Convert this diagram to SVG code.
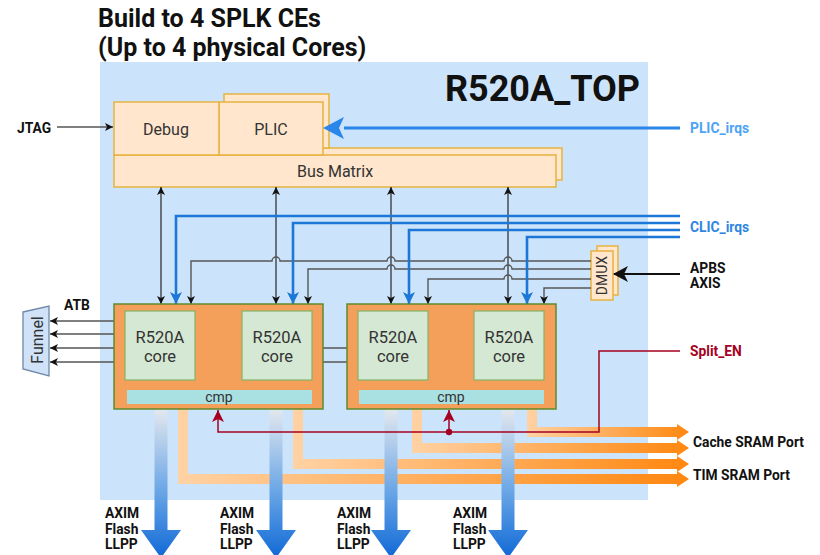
<svg xmlns="http://www.w3.org/2000/svg" width="820" height="555" viewBox="0 0 820 555">
<defs>
<style>
text{font-family:Roboto,"Liberation Sans",sans-serif;}
.b{font-weight:bold;fill:#111;font-size:13.8px;}
.n{fill:#333;font-size:16px;}
.box{fill:#ffe6cc;stroke:#e6b33f;stroke-width:1.5;}
.cl{fill:#f5a05a;stroke:#5d8a2e;stroke-width:1.5;}
.core{fill:#d5e8d4;stroke:#82b366;stroke-width:1.2;}
.cmp{fill:#a9e0e2;}
.blk{fill:none;stroke:#333;stroke-width:1.3;}
.gry{fill:none;stroke:#555;stroke-width:1.4;}
.blu{fill:none;stroke:#1c77d8;stroke-width:2.6;}
.red{fill:none;stroke:#a50021;stroke-width:1.5;}
</style>
<marker id="ak" viewBox="0 0 10 10" refX="10" refY="5" markerWidth="8" markerHeight="8" markerUnits="userSpaceOnUse" orient="auto-start-reverse"><path d="M0,0 L10,5 L0,10 L2.5,5 z" fill="#111"/></marker>
<marker id="abl" viewBox="0 0 10 10" refX="10" refY="5" markerWidth="13" markerHeight="12" markerUnits="userSpaceOnUse" orient="auto"><path d="M0,0 L10,5 L0,10 L2.5,5 z" fill="#1c77d8"/></marker>
<marker id="ar" viewBox="0 0 10 10" refX="10" refY="5" markerWidth="12" markerHeight="12" markerUnits="userSpaceOnUse" orient="auto"><path d="M0,0 L10,5 L0,10 L2.5,5 z" fill="#a50021"/></marker>
<linearGradient id="gb" x1="0" y1="0" x2="0" y2="1"><stop offset="0" stop-color="#e4e8ee"/><stop offset="0.55" stop-color="#6aa6e6"/><stop offset="1" stop-color="#1069d6"/></linearGradient>
<linearGradient id="go" x1="0" y1="0" x2="1" y2="0"><stop offset="0" stop-color="#ffd2a4"/><stop offset="1" stop-color="#ff8710"/></linearGradient>
</defs>
<rect width="820" height="555" fill="#fff"/>
<rect x="100" y="62" width="548" height="438" fill="#cce4fb"/>
<text class="b" x="98" y="27" style="font-size:25px">Build to 4 SPLK CEs</text>
<text class="b" x="98" y="56" style="font-size:25px">(Up to 4 physical Cores)</text>
<text class="b" x="445" y="101" style="font-size:36px">R520A_TOP</text>

<g id="bus-matrix">
<rect class="box" x="120" y="148" width="442" height="32"/>
<rect class="box" x="114" y="155" width="442" height="32"/>
<text class="n" x="335" y="177" text-anchor="middle">Bus Matrix</text>
</g>
<g id="plic">
<rect class="box" x="224" y="94" width="105" height="54"/>
<rect class="box" x="219" y="102" width="104" height="53"/>
<text class="n" x="271" y="135" text-anchor="middle">PLIC</text>
</g>
<g id="debug">
<rect class="box" x="114" y="102" width="105" height="53"/>
<text class="n" x="166" y="135" text-anchor="middle">Debug</text>
</g>
<g id="dmux">
<rect class="box" x="597" y="246" width="21" height="49"/>
<rect class="box" x="591" y="251" width="22" height="49"/>
<text x="602" y="275.5" transform="rotate(-90 602 275.5)" text-anchor="middle" dominant-baseline="central" style="font-size:14px;fill:#333">DMUX</text>
</g>
<g id="funnel">
<polygon points="23,312 49,306 49,376 23,369" fill="#cfe2f7" stroke="#6f88a8" stroke-width="1.3"/>
<text x="37" y="340" transform="rotate(-90 37 340)" text-anchor="middle" dominant-baseline="central" style="font-size:16px;fill:#333">Funnel</text>
</g>

<g id="connectors">
<polygon fill="url(#go)" points="527,409 537,409 537,427 677,427 677,424 689,432 677,440 677,437 527,437"/>
<polygon fill="url(#go)" points="412,409 422,409 422,443 677,443 677,440 689,448 677,456 677,453 412,453"/>
<polygon fill="url(#go)" points="293,409 303,409 303,459 677,459 677,456 689,464 677,472 677,469 293,469"/>
<polygon fill="url(#go)" points="178,409 188,409 188,474 677,474 677,471 689,479 677,487 677,484 178,484"/>
<polygon fill="url(#gb)" points="154.5,409 167.5,409 167.5,530 181,530 161,558 141,530 154.5,530"/>
<polygon fill="url(#gb)" points="269.5,409 282.5,409 282.5,530 296,530 276,558 256,530 269.5,530"/>
<polygon fill="url(#gb)" points="384.5,409 397.5,409 397.5,530 411,530 391,558 371,530 384.5,530"/>
<polygon fill="url(#gb)" points="501.5,409 514.5,409 514.5,530 528,530 508,558 488,530 501.5,530"/>
<path class="red" d="M680,351 H599 V432 H218 V410" marker-end="url(#ar)"/>
<path class="red" d="M449,432 V410" marker-end="url(#ar)"/>
<circle cx="449" cy="432" r="3.2" fill="#a50021"/>
<path class="gry" d="M57,127 H113" marker-end="url(#ak)"/>
<path d="M680,128 H344" stroke="#2a86e8" stroke-width="3" fill="none"/>
<path d="M323,128 L344,117 L339,128 L344,139 z" fill="#2a86e8"/>
<path class="blk" d="M161,187 V304" marker-start="url(#ak)" marker-end="url(#ak)"/>
<path class="blk" d="M276,187 V304" marker-start="url(#ak)" marker-end="url(#ak)"/>
<path class="blk" d="M391,187 V304" marker-start="url(#ak)" marker-end="url(#ak)"/>
<path class="blk" d="M508,187 V304" marker-start="url(#ak)" marker-end="url(#ak)"/>
<path class="gry" d="M591,261 H512 A4,4 0 0 0 504,261 H395 A4,4 0 0 0 387,261 H280 A4,4 0 0 0 272,261 H191 V304" marker-end="url(#ak)"/>
<path class="gry" d="M591,269 H512 A4,4 0 0 0 504,269 H395 A4,4 0 0 0 387,269 H308 V304" marker-end="url(#ak)"/>
<path class="gry" d="M591,279 H512 A4,4 0 0 0 504,279 H428 V304" marker-end="url(#ak)"/>
<path class="gry" d="M591,288 H544 V304" marker-end="url(#ak)"/>
<path d="M680,274 H614" stroke="#111" stroke-width="2" fill="none"/>
<path d="M613,274 L628,266 L624,274 L628,282 z" fill="#111"/>
<path class="blu" d="M680,216 H176 V304" marker-end="url(#abl)"/>
<path class="blu" d="M680,223 H293 V304" marker-end="url(#abl)"/>
<path class="blu" d="M680,230 H409 V304" marker-end="url(#abl)"/>
<path class="blu" d="M680,237 H527 V304" marker-end="url(#abl)"/>
<path class="gry" d="M114,321 H50" marker-end="url(#ak)"/>
<path class="gry" d="M114,334 H50" marker-end="url(#ak)"/>
<path class="gry" d="M114,348 H50" marker-end="url(#ak)"/>
<path class="gry" d="M114,362 H50" marker-end="url(#ak)"/>
<path class="gry" d="M323,348 H347 M323,362 H347"/>
</g>

<g id="cluster-1">
<rect class="cl" x="114" y="304" width="209" height="105"/>
<rect class="core" x="125" y="311" width="70" height="69"/>
<rect class="core" x="242" y="311" width="70" height="69"/>
<rect class="cmp" x="127" y="390" width="185" height="14"/>
<text class="n" x="160" y="343" text-anchor="middle" style="font-size:16.5px">R520A</text>
<text class="n" x="160" y="362" text-anchor="middle" style="font-size:16.5px">core</text>
<text class="n" x="277" y="343" text-anchor="middle" style="font-size:16.5px">R520A</text>
<text class="n" x="277" y="362" text-anchor="middle" style="font-size:16.5px">core</text>
<text class="n" x="219" y="401.5" text-anchor="middle" style="font-size:14px">cmp</text>
</g>
<g id="cluster-2">
<rect class="cl" x="347" y="304" width="209" height="105"/>
<rect class="core" x="358" y="311" width="70" height="69"/>
<rect class="core" x="474" y="311" width="70" height="69"/>
<rect class="cmp" x="359" y="390" width="185" height="14"/>
<text class="n" x="393" y="343" text-anchor="middle" style="font-size:16.5px">R520A</text>
<text class="n" x="393" y="362" text-anchor="middle" style="font-size:16.5px">core</text>
<text class="n" x="509" y="343" text-anchor="middle" style="font-size:16.5px">R520A</text>
<text class="n" x="509" y="362" text-anchor="middle" style="font-size:16.5px">core</text>
<text class="n" x="451" y="401.5" text-anchor="middle" style="font-size:14px">cmp</text>
</g>

<g id="labels">
<text class="b" x="17" y="133">JTAG</text>
<text class="b" x="64" y="310">ATB</text>
<text class="b" x="690" y="133" style="fill:#4da3f5">PLIC_irqs</text>
<text class="b" x="690" y="232" style="fill:#2f86e0">CLIC_irqs</text>
<text class="b" x="690" y="273">APBS</text>
<text class="b" x="690" y="288">AXIS</text>
<text class="b" x="690" y="356" style="fill:#a50021">Split_EN</text>
<text class="b" x="693" y="447">Cache SRAM Port</text>
<text class="b" x="693" y="480">TIM SRAM Port</text>
<text class="b" x="105" y="518">AXIM</text><text class="b" x="105" y="534">Flash</text><text class="b" x="105" y="549">LLPP</text>
<text class="b" x="220" y="518">AXIM</text><text class="b" x="220" y="534">Flash</text><text class="b" x="220" y="549">LLPP</text>
<text class="b" x="337" y="518">AXIM</text><text class="b" x="337" y="534">Flash</text><text class="b" x="337" y="549">LLPP</text>
<text class="b" x="453" y="518">AXIM</text><text class="b" x="453" y="534">Flash</text><text class="b" x="453" y="549">LLPP</text>
</g>
</svg>
